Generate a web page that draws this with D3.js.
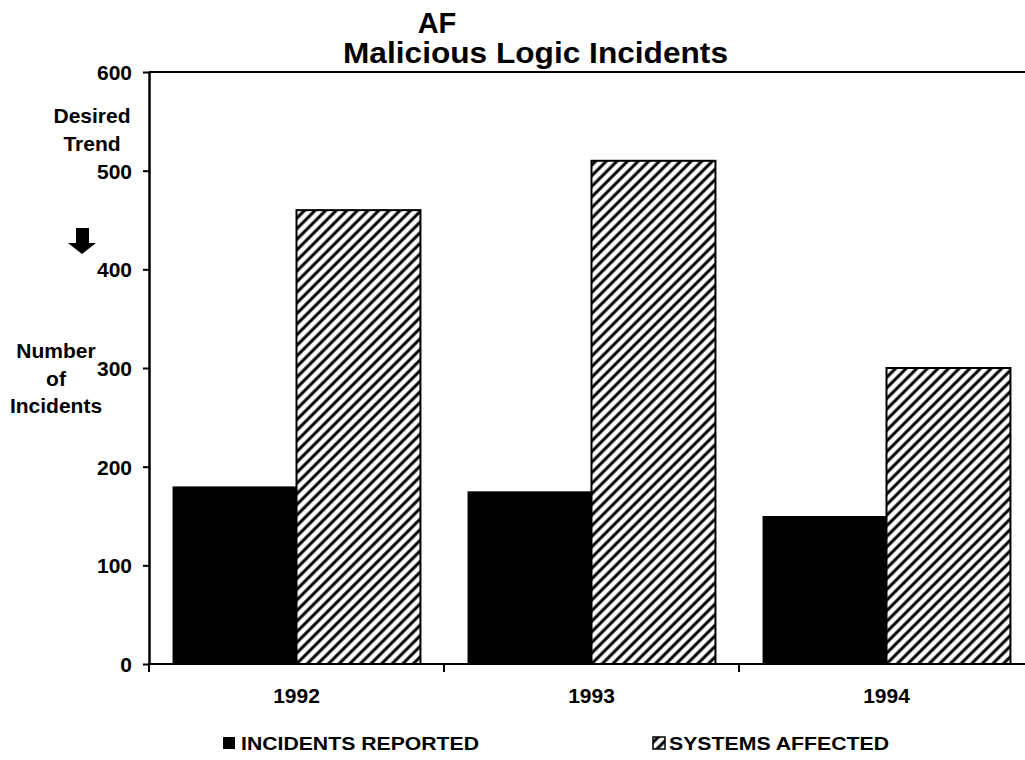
<!DOCTYPE html>
<html>
<head>
<meta charset="utf-8">
<script src="https://cdn.jsdelivr.net/npm/d3@7"></script>
<style>
    body { margin: 0; background: #fff; }
    svg text { font-family: "Liberation Sans", Arial, sans-serif; font-weight: bold; fill: #000; }
</style>
</head>
<body>
<svg id="chart" width="1025" height="760"></svg>
<script>
    // data
    var years = ["1992", "1993", "1994"];
    var series = ["INCIDENTS REPORTED", "SYSTEMS AFFECTED"];
    var incidentsReported = [180, 175, 150];
    var systemsAffected = [460, 510, 300];
    var yTicks = [0, 100, 200, 300, 400, 500, 600];

    var svg = d3.select("#chart");

    var plot = {left: 149, top: 72, bottom: 664, right: 1034};

    var y = d3.scaleLinear()
        .domain([0, 600])
        .range([plot.bottom, plot.top]);

    var x0 = d3.scaleBand()
        .domain(years)
        .range([plot.left, plot.right]);

    var x1 = d3.scaleBand()
        .domain(series)
        .range([0, x0.bandwidth()])
        .paddingInner(0)
        .paddingOuter(0.19);

    // hatch pattern
    var defs = svg.append("defs");
    var pat = defs.append("pattern")
        .attr("id", "hatch")
        .attr("patternUnits", "userSpaceOnUse")
        .attr("width", 7.5)
        .attr("height", 7.5)
        .attr("patternTransform", "rotate(45)");
    pat.append("rect").attr("width", 7.5).attr("height", 7.5).attr("fill", "#fff");
    pat.append("line")
        .attr("x1", 3.75).attr("y1", 0)
        .attr("x2", 3.75).attr("y2", 7.5)
        .attr("stroke", "#000")
        .attr("stroke-width", 3);

    // titles
    svg.append("text")
        .attr("x", 437).attr("y", 33)
        .attr("text-anchor", "middle")
        .style("font-size", "29px")
        .text("AF");
    svg.append("text")
        .attr("x", 343).attr("y", 63)
        .attr("textLength", 385)
        .attr("lengthAdjust", "spacingAndGlyphs")
        .style("font-size", "29px")
        .text("Malicious Logic Incidents");

    // top border of plot
    svg.append("line")
        .attr("x1", plot.left).attr("x2", 1025)
        .attr("y1", y(600)).attr("y2", y(600))
        .attr("stroke", "#000").attr("stroke-width", 2);

    // bars
    var rows = years.map(function (yr, i) {
        return {year: yr, values: [incidentsReported[i], systemsAffected[i]]};
    });

    var groups = svg.append("g").selectAll("g")
        .data(rows)
        .join("g")
        .attr("transform", function (d) { return "translate(" + x0(d.year) + ",0)"; });

    groups.selectAll("rect")
        .data(function (d) {
            return d.values.map(function (v, j) { return {key: series[j], value: v, idx: j}; });
        })
        .join("rect")
        .attr("x", function (d) { return x1(d.key); })
        .attr("width", x1.bandwidth())
        .attr("y", function (d) { return y(d.value); })
        .attr("height", function (d) { return y(0) - y(d.value); })
        .attr("fill", function (d) { return d.idx === 0 ? "#000" : "url(#hatch)"; })
        .attr("stroke", function (d) { return d.idx === 0 ? "none" : "#000"; })
        .attr("stroke-width", 2);

    // y axis
    var yAxis = svg.append("g")
        .attr("transform", "translate(" + plot.left + ",0)")
        .call(d3.axisLeft(y)
            .tickValues(yTicks)
            .tickSize(6)
            .tickSizeOuter(0)
            .tickPadding(11));
    yAxis.select(".domain").attr("stroke-width", 2.5);
    yAxis.selectAll(".tick line").attr("stroke-width", 2);
    yAxis.selectAll("text")
        .style("font-size", "21px")
        .style("font-family", "'Liberation Sans', Arial, sans-serif")
        .style("font-weight", "bold")
        .attr("dy", "0.36em");

    // x axis
    svg.append("line")
        .attr("x1", plot.left).attr("x2", 1025)
        .attr("y1", y(0)).attr("y2", y(0))
        .attr("stroke", "#000").attr("stroke-width", 2);

    svg.append("g").selectAll("line")
        .data(years)
        .join("line")
        .attr("x1", function (d) { return x0(d); })
        .attr("x2", function (d) { return x0(d); })
        .attr("y1", y(0)).attr("y2", y(0) + 8)
        .attr("stroke", "#000").attr("stroke-width", 2);

    svg.append("g").selectAll("text")
        .data(years)
        .join("text")
        .attr("x", function (d) { return x0(d) + x0.bandwidth() / 2; })
        .attr("y", 703)
        .attr("text-anchor", "middle")
        .style("font-size", "21px")
        .text(function (d) { return d; });

    // side annotations
    svg.append("text")
        .attr("text-anchor", "middle")
        .style("font-size", "21px")
        .selectAll("tspan")
        .data(["Desired", "Trend"])
        .join("tspan")
        .attr("x", 92)
        .attr("y", function (d, i) { return 123 + i * 28; })
        .text(function (d) { return d; });

    svg.append("path")
        .attr("d", "M76,228 L89,228 L89,243 L96,243 L82,254 L68,243 L76,243 Z")
        .attr("fill", "#000");

    svg.append("text")
        .attr("text-anchor", "middle")
        .style("font-size", "21px")
        .selectAll("tspan")
        .data(["Number", "of", "Incidents"])
        .join("tspan")
        .attr("x", 56)
        .attr("y", function (d, i) { return 358 + i * 27.5; })
        .text(function (d) { return d; });

    // legend
    var legendX = [223, 653];
    var legendLen = [238, 220];
    var legend = svg.append("g").selectAll("g")
        .data(series)
        .join("g")
        .attr("transform", function (d, i) { return "translate(" + legendX[i] + ",737)"; });

    legend.append("rect")
        .attr("width", 12).attr("height", 12)
        .attr("fill", function (d, i) { return i === 0 ? "#000" : "url(#hatch)"; })
        .attr("stroke", "#000")
        .attr("stroke-width", function (d, i) { return i === 0 ? 0 : 1.5; });

    legend.append("text")
        .attr("x", function (d, i) { return i === 0 ? 18 : 16; })
        .attr("y", 13)
        .attr("textLength", function (d, i) { return legendLen[i]; })
        .attr("lengthAdjust", "spacingAndGlyphs")
        .style("font-size", "19px")
        .text(function (d) { return d; });
</script>
</body>
</html>
